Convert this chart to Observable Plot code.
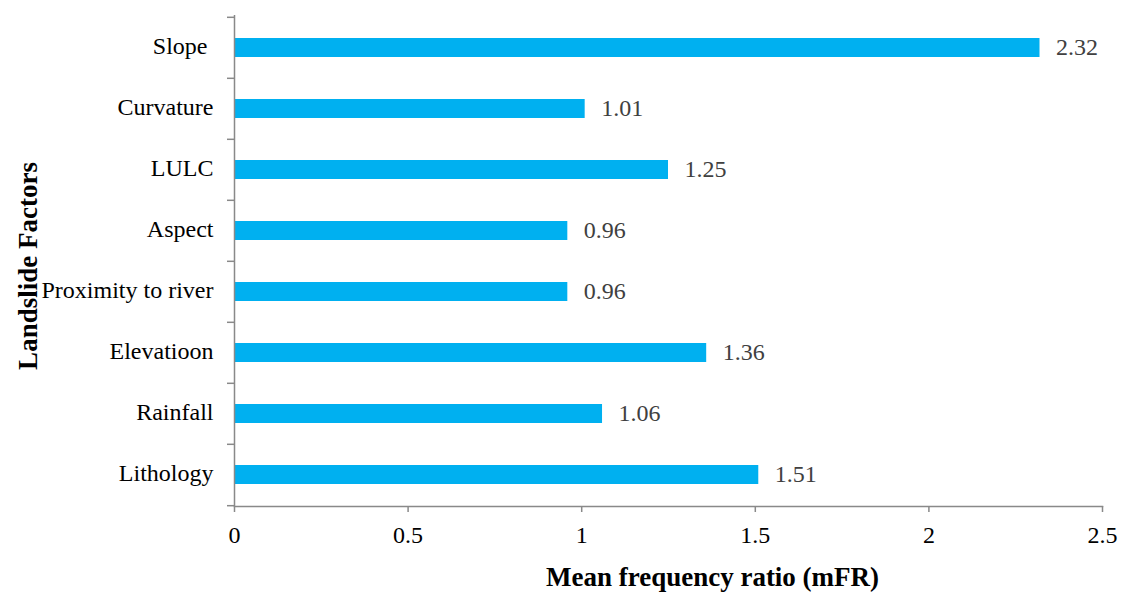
<!DOCTYPE html>
<html>
<head>
<meta charset="utf-8">
<script src="https://cdn.jsdelivr.net/npm/d3@7"></script>
<script src="https://cdn.jsdelivr.net/npm/@observablehq/plot@0.6"></script>
<style>
  html, body { margin: 0; padding: 0; background: #fff; }
</style>
</head>
<body>
<div id="chart"></div>
<script>
const factors = ["Slope", "Curvature", "LULC", "Aspect", "Proximity to river", "Elevatioon", "Rainfall", "Lithology"];
const mfr = [2.32, 1.01, 1.25, 0.96, 0.96, 1.36, 1.06, 1.51];
const xTicks = [0, 0.5, 1, 1.5, 2, 2.5];
const xTitle = "Mean frequency ratio (mFR)";
const yTitle = "Landslide Factors";

const data = factors.map((f, i) => ({factor: f, value: mfr[i]}));

const marginTop = 15, marginBottom = 87, height = 593;
const step = (height - marginTop - marginBottom) / factors.length;

const chart = Plot.plot({
  width: 1122,
  height,
  marginLeft: 234,
  marginRight: 20,
  marginTop,
  marginBottom,
  style: {fontFamily: "Liberation Serif", background: "#fff", color: "#000"},
  x: {domain: [0, 2.5]},
  y: {domain: factors, paddingInner: 0.69, paddingOuter: 0.345},
  marks: [
    Plot.barX(data, {x: "value", y: "factor", fill: "#00B0F0"}),
    Plot.text(data, {x: "value", y: "factor", text: d => d.value.toFixed(2), dx: 16, dy: -1, textAnchor: "start", fill: "#404040", fontSize: 24}),
    // axis lines
    Plot.ruleX([0], {stroke: "#898989", strokeWidth: 1.5}),
    Plot.frame({anchor: "bottom", stroke: "#898989", strokeWidth: 1.5}),
    // y tick marks at category boundaries
    Plot.axisY({ticks: factors, tickSize: 7, tickFormat: () => "", label: null, dy: -step / 2, stroke: "#898989", strokeWidth: 1.5}),
    Plot.axisY({ticks: [factors[factors.length - 1]], tickSize: 7, tickFormat: () => "", label: null, dy: step / 2, stroke: "#898989", strokeWidth: 1.5}),
    // y labels
    Plot.axisY({ticks: factors, tickSize: 0, tickPadding: 21, dy: -2, fontSize: 24, fill: "#000", label: null,
      tickFormat: d => d === "Slope" ? "Slope\u00a0" : d}),
    // x axis
    Plot.axisX({ticks: xTicks, tickSize: 6, tickPadding: 13, fontSize: 24, stroke: "#898989", strokeWidth: 1.5, fill: "#000", label: null,
      tickFormat: d => String(d)}),
    // titles
    Plot.text([xTitle], {frameAnchor: "bottom", dy: 79, dx: 44, fontSize: 27, fontWeight: "bold", fill: "#000"}),
    Plot.text([yTitle], {frameAnchor: "left", textAnchor: "middle", dx: -206, dy: 5, rotate: -90, fontSize: 27, fontWeight: "bold", fill: "#000"})
  ]
});
document.getElementById("chart").appendChild(chart);
</script>
</body>
</html>
